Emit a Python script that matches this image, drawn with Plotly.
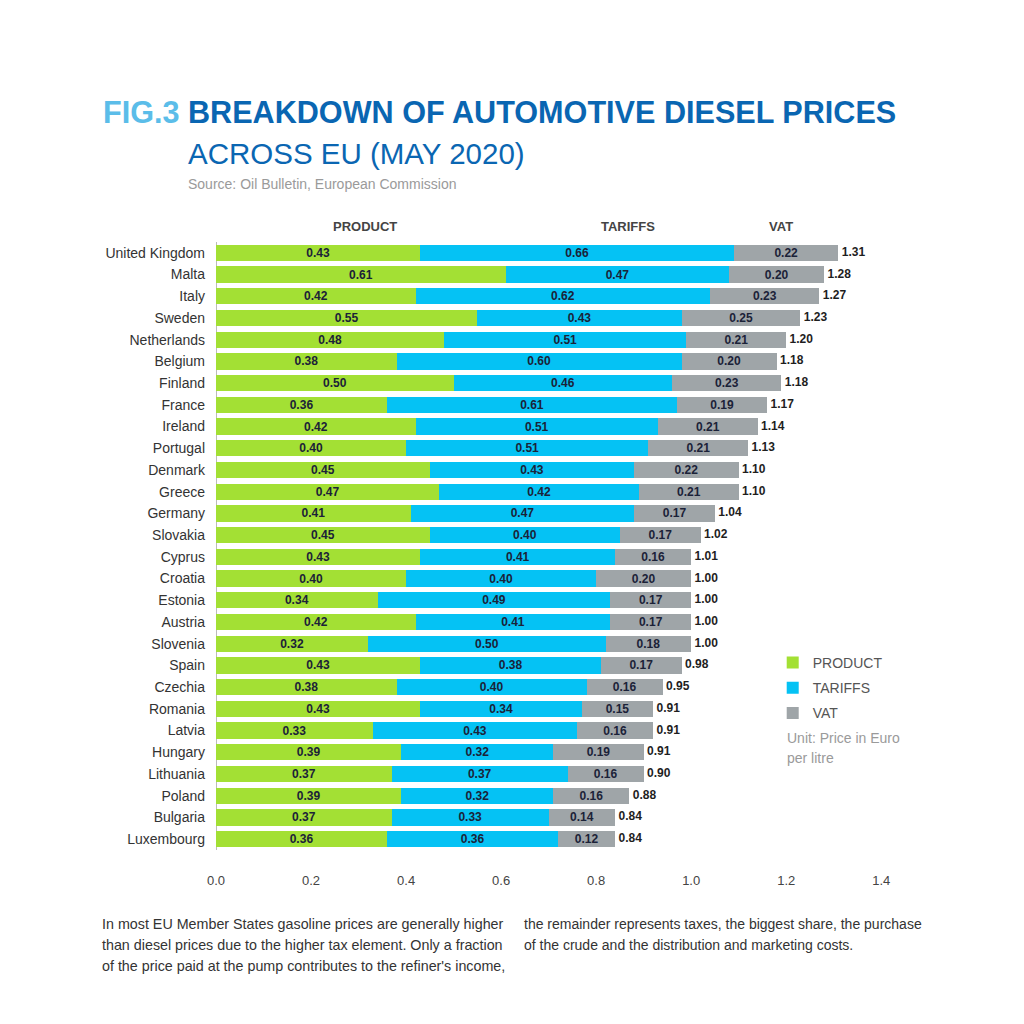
import plotly.graph_objects as go

countries = ["United Kingdom", "Malta", "Italy", "Sweden", "Netherlands", "Belgium", "Finland",
             "France", "Ireland", "Portugal", "Denmark", "Greece", "Germany", "Slovakia", "Cyprus",
             "Croatia", "Estonia", "Austria", "Slovenia", "Spain", "Czechia", "Romania", "Latvia",
             "Hungary", "Lithuania", "Poland", "Bulgaria", "Luxembourg"]
product = [0.43, 0.61, 0.42, 0.55, 0.48, 0.38, 0.50, 0.36, 0.42, 0.40, 0.45, 0.47, 0.41, 0.45, 0.43,
           0.40, 0.34, 0.42, 0.32, 0.43, 0.38, 0.43, 0.33, 0.39, 0.37, 0.39, 0.37, 0.36]
tariffs = [0.66, 0.47, 0.62, 0.43, 0.51, 0.60, 0.46, 0.61, 0.51, 0.51, 0.43, 0.42, 0.47, 0.40, 0.41,
           0.40, 0.49, 0.41, 0.50, 0.38, 0.40, 0.34, 0.43, 0.32, 0.37, 0.32, 0.33, 0.36]
vat = [0.22, 0.20, 0.23, 0.25, 0.21, 0.20, 0.23, 0.19, 0.21, 0.21, 0.22, 0.21, 0.17, 0.17, 0.16,
       0.20, 0.17, 0.17, 0.18, 0.17, 0.16, 0.15, 0.16, 0.19, 0.16, 0.16, 0.14, 0.12]
totals = [1.31, 1.28, 1.27, 1.23, 1.20, 1.18, 1.18, 1.17, 1.14, 1.13, 1.10, 1.10, 1.04, 1.02, 1.01,
          1.00, 1.00, 1.00, 1.00, 0.98, 0.95, 0.91, 0.91, 0.91, 0.90, 0.88, 0.84, 0.84]
x_ticks = [0.0, 0.2, 0.4, 0.6, 0.8, 1.0, 1.2, 1.4]

GREEN = "#a3e034"
CYAN = "#05c2f4"
GRAY = "#9fa5a8"
TXT = "#1b2238"
FONT = "Liberation Sans"

fig = go.Figure()
for name, vals, col in [("PRODUCT", product, GREEN), ("TARIFFS", tariffs, CYAN), ("VAT", vat, GRAY)]:
    fig.add_trace(go.Bar(
        y=countries, x=vals, name=name, orientation="h", marker=dict(color=col, line=dict(width=0)),
        texttemplate="<b>%{x:.2f}</b>", textposition="inside", insidetextanchor="middle",
        constraintext="none", textangle=0,
        textfont=dict(family=FONT, size=12, color=TXT), legendgroup=name,
        hoverinfo="skip"))

ends = [p + t + v for p, t, v in zip(product, tariffs, vat)]
fig.add_trace(go.Scatter(
    y=countries, x=ends, mode="text", text=["&nbsp;<b>%.2f</b>" % t for t in totals],
    textposition="middle right", textfont=dict(family=FONT, size=12, color="#1e1e1e"),
    showlegend=False, hoverinfo="skip", cliponaxis=False))

fig.update_layout(
    width=1024, height=1024,
    margin=dict(l=208, r=127, t=234, b=182, autoexpand=False),
    paper_bgcolor="white", plot_bgcolor="white",
    barmode="stack", bargap=0.25,
    font=dict(family=FONT, size=13, color="#333333"),
    xaxis=dict(range=[0, 1.45], tickvals=x_ticks, ticktext=["%.1f" % v for v in x_ticks],
               showgrid=False, zeroline=True, zerolinecolor="#bbbbbb", zerolinewidth=1,
               showline=False, ticks="", ticklabelstandoff=21, automargin=False,
               tickfont=dict(family=FONT, size=13, color="#444444")),
    yaxis=dict(range=[len(countries) - 0.5, -0.5], showgrid=False, showline=False, ticks="",
               ticklabelstandoff=10, automargin=False,
               tickfont=dict(family=FONT, size=14, color="#333333")),
    legend=dict(x=0.808, y=0.334, xanchor="left", yanchor="top", traceorder="grouped",
                tracegroupgap=4, font=dict(family=FONT, size=14, color="#555555"),
                bgcolor="rgba(0,0,0,0)"),
    showlegend=True,
)

# Title & subtitle
fig.add_annotation(xref="paper", yref="paper", x=-0.1675, y=1.0, xanchor="left", yanchor="middle",
                   yshift=130, showarrow=False,
                   text="<b><span style='color:#5bbde9'>FIG.3</span> BREAKDOWN OF AUTOMOTIVE DIESEL PRICES</b>",
                   font=dict(family=FONT, size=30.6, color="#0a66b2"))
fig.add_annotation(xref="paper", yref="paper", x=-0.044, y=1.0, xanchor="left", yanchor="middle",
                   yshift=89, showarrow=False, text="ACROSS EU (MAY 2020)",
                   font=dict(family=FONT, size=29.5, color="#0a66b2"))
fig.add_annotation(xref="paper", yref="paper", x=-0.044, y=1.0, xanchor="left", yanchor="middle",
                   yshift=58, showarrow=False, text="Source: Oil Bulletin, European Commission",
                   font=dict(family=FONT, size=14, color="#9a9a9a"))

# Column headers
for label, xpos in [("PRODUCT", 0.314), ("TARIFFS", 0.868), ("VAT", 1.189)]:
    fig.add_annotation(xref="x", yref="paper", x=xpos, y=1.0, yanchor="middle", yshift=16,
                       showarrow=False, text="<b>" + label + "</b>",
                       font=dict(family=FONT, size=13, color="#444444"))

# Unit note
for line, ypos in [("Unit: Price in Euro", 0.184), ("per litre", 0.151)]:
    fig.add_annotation(xref="paper", yref="paper", x=0.826, y=ypos, xanchor="left", yanchor="middle",
                       showarrow=False, text=line, font=dict(family=FONT, size=14, color="#9a9a9a"))

# Bottom text
left_lines = ["In most EU Member States gasoline prices are generally higher",
              "than diesel prices due to the higher tax element. Only a fraction",
              "of the price paid at the pump contributes to the refiner's income,"]
right_lines = ["the remainder represents taxes, the biggest share, the purchase",
               "of the crude and the distribution and marketing costs."]
for i, line in enumerate(left_lines):
    fig.add_annotation(xref="paper", yref="paper", x=-0.1685, y=0.0, xanchor="left", yanchor="middle",
                       yshift=-74 - 21 * i, showarrow=False, text=line,
                       font=dict(family=FONT, size=14.3, color="#333333"))
for i, line in enumerate(right_lines):
    fig.add_annotation(xref="paper", yref="paper", x=0.444, y=0.0, xanchor="left", yanchor="middle",
                       yshift=-74 - 21 * i, showarrow=False, text=line,
                       font=dict(family=FONT, size=14.0, color="#333333"))

fig.write_html("out.html")
